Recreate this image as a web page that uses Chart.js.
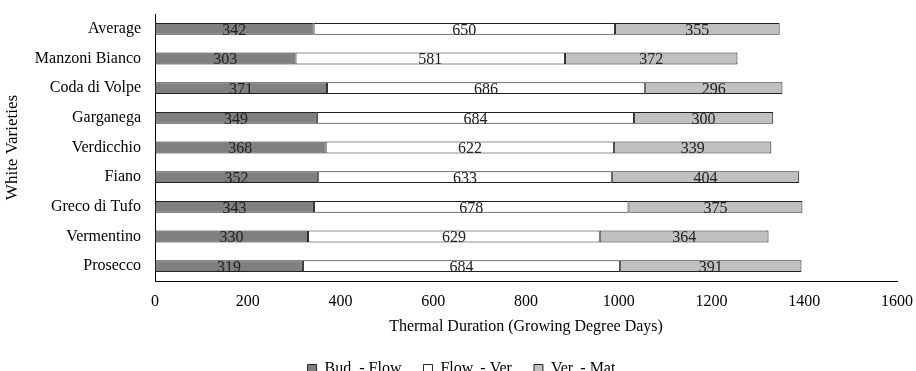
<!DOCTYPE html>
<html>
<head>
<meta charset="utf-8">
<script src="https://cdn.jsdelivr.net/npm/chart.js@4.4.1/dist/chart.umd.min.js"></script>
<style>
  html, body { margin: 0; padding: 0; background: #fff; overflow: hidden; }
  #wrap { width: 916px; height: 371px; overflow: hidden; }
</style>
</head>
<body>
<div id="wrap"><canvas id="myChart" width="916" height="387"></canvas></div>
<script>
  // Data
  const varieties = ['Average', 'Manzoni Bianco', 'Coda di Volpe', 'Garganega', 'Verdicchio', 'Fiano', 'Greco di Tufo', 'Vermentino', 'Prosecco']
  const budFlow = [342, 303, 371, 349, 368, 352, 343, 330, 319]
  const flowVer = [650, 581, 686, 684, 622, 633, 678, 629, 684]
  const verMat = [355, 372, 296, 300, 339, 404, 375, 364, 391]
  const seriesNames = ['Bud. - Flow.', 'Flow. - Ver.', 'Ver. - Mat.']
  const xTicks = [0, 200, 400, 600, 800, 1000, 1200, 1400, 1600]

  const serif = "'Liberation Serif', 'Times New Roman', serif"

  // draws the value in the middle of every bar segment
  const barLabels = {
    id: 'barLabels',
    afterDatasetsDraw(chart) {
      const c = chart.ctx
      c.save()
      c.font = '16px ' + serif
      c.fillStyle = '#222'
      c.textAlign = 'center'
      c.textBaseline = 'middle'
      chart.data.datasets.forEach((ds, i) => {
        chart.getDatasetMeta(i).data.forEach((bar, j) => {
          const cx = (bar.x + bar.base) / 2
          c.fillText(ds.data[j], cx, bar.y + 1.5)
        })
      })
      c.restore()
    }
  }

  // legend sits a little right of the canvas centre in the original
  const legendShift = {
    id: 'legendShift',
    afterLayout(chart) {
      chart.legend.left += 15
      chart.legend.right += 15
    }
  }

  function makeSet(label, data, color) {
    return {
      label: label,
      data: data,
      backgroundColor: color,
      borderColor: '#222',
      borderWidth: 1,
      borderSkipped: false
    }
  }

  const ctx = document.getElementById('myChart')
  new Chart(ctx, {
    type: 'bar',
    data: {
      labels: varieties,
      datasets: [
        makeSet(seriesNames[0], budFlow, '#808080'),
        makeSet(seriesNames[1], flowVer, '#ffffff'),
        makeSet(seriesNames[2], verMat, '#c0c0c0')
      ]
    },
    options: {
      indexAxis: 'y',
      responsive: false,
      animation: false,
      barPercentage: 0.4,
      categoryPercentage: 1,
      layout: { padding: { top: 14, right: 19, bottom: 0, left: 0 } },
      scales: {
        x: {
          stacked: true,
          min: xTicks[0],
          max: xTicks[xTicks.length - 1],
          afterFit(scale) {
            scale.height = 61
            scale.paddingLeft = 0
            scale.paddingRight = 0
          },
          afterBuildTicks(scale) { scale.ticks = xTicks.map(v => ({ value: v })) },
          grid: { display: false, drawTicks: false },
          border: { display: true, color: '#000', width: 1 },
          ticks: {
            color: '#000',
            padding: 11,
            maxRotation: 0,
            font: { family: serif, size: 16 },
            callback: v => String(v)
          },
          title: {
            display: true,
            text: 'Thermal Duration (Growing Degree Days)',
            color: '#000',
            padding: { top: 0, bottom: 6 },
            font: { family: serif, size: 16 }
          }
        },
        y: {
          stacked: true,
          afterFit(scale) {
            scale.width = 155
            scale.paddingTop = 0
            scale.paddingBottom = 0
          },
          grid: { display: false, drawTicks: false },
          border: { display: true, color: '#000', width: 1 },
          ticks: { color: '#000', padding: 14, font: { family: serif, size: 16 } },
          title: {
            display: true,
            text: 'White Varieties',
            color: '#000',
            padding: { top: 2, bottom: 0 },
            font: { family: serif, size: 17 }
          }
        }
      },
      plugins: {
        legend: {
          position: 'bottom',
          labels: {
            boxWidth: 9,
            boxHeight: 9,
            padding: 19,
            color: '#000',
            font: { family: serif, size: 16 }
          }
        },
        tooltip: { enabled: false }
      }
    },
    plugins: [barLabels, legendShift]
  })
</script>
</body>
</html>
